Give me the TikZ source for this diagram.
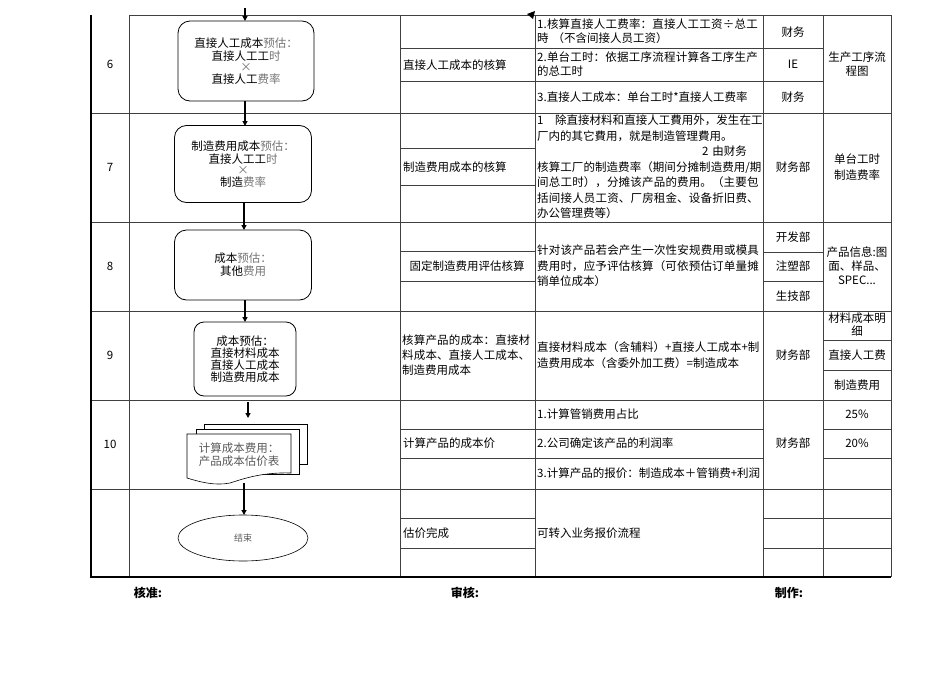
\documentclass[tikz,border=0pt]{standalone}
\usepackage{fontspec}
\setmainfont{Noto Sans CJK SC}
\XeTeXlinebreaklocale "zh"
\XeTeXlinebreakskip=0pt plus 1pt
\usetikzlibrary{shapes.geometric,arrows.meta}
\begin{document}
\begin{tikzpicture}[x=1pt,y=-1pt,
  every node/.style={font=\fontsize{11.5}{16}\selectfont,inner sep=1pt},
  grid/.style={draw=black!75,line width=0.8pt},
  thick border/.style={line width=1.8pt},
  flow/.style={draw,rounded corners=12pt,line width=0.8pt},
  arr/.style={-{Triangle[length=5pt,width=5pt]},line width=1.5pt},
  cell/.style={anchor=west,align=left},
  ctr/.style={align=center},
  gr/.style={text=black!55}]
\useasboundingbox (0,0) rectangle (950,672);
% grid
\draw[grid] (129,15) -- (891,15);
\foreach \y in {113,222,311,400,489} \draw[grid] (91,\y) -- (891,\y);
\foreach \x in {129,400,535,763,823,891} \draw[grid] (\x,15) -- (\x,577);
\foreach \y in {48,81,148,185,251,281,429,458,518,548} \draw[grid] (400,\y) -- (535,\y);
\foreach \y in {48,81,429,458} \draw[grid] (535,\y) -- (763,\y);
\foreach \y in {48,81,252,281,518,548} \draw[grid] (763,\y) -- (823,\y);
\foreach \y in {340,370,429,458,518,548} \draw[grid] (823,\y) -- (891,\y);
\draw[thick border] (91,15) -- (91,577) -- (891,577);
% row numbers
\node at (110,64) {6};
\node at (110,167) {7};
\node at (110,266) {8};
\node at (110,355) {9};
\node at (110,444) {10};
% flow shapes
\node[flow,minimum width=136pt,minimum height=80pt,ctr] (b6) at (246,61) {直接人工成本\textcolor{black!55}{预估：}\\[-3pt]直接人工工\textcolor{black!55}{时}\\[-5pt]\textcolor{black!55}{×}\\[-4pt]直接人工\textcolor{black!55}{费率}};
\node[flow,minimum width=137pt,minimum height=77pt,ctr] (b7) at (243,164) {制造费用成本\textcolor{black!55}{预估：}\\[-3pt]直接人工工\textcolor{black!55}{时}\\[-5pt]\textcolor{black!55}{×}\\[-4pt]制造\textcolor{black!55}{费率}};
\node[flow,minimum width=137pt,minimum height=70pt,ctr] (b8) at (243,265) {成本\textcolor{black!55}{预估：}\\[-3pt]其他\textcolor{black!55}{费用}};
\node[flow,minimum width=102pt,minimum height=74pt,ctr,rounded corners=10pt] (b9) at (245,359) {成本预估：\\[-4pt]直接材料成本\\[-4pt]直接人工成本\\[-4pt]制造费用成本};
% document stack
\draw[line width=0.6pt,fill=white] (204,424) rectangle (307,464);
\draw[line width=0.6pt,fill=white] (196,429) rectangle (299,474);
\draw[line width=0.6pt,fill=white] (187,434) -- (291,434) -- (291,473) .. controls (260,472) and (240,480) .. (230,483) .. controls (215,486) and (200,482) .. (187,478) -- cycle;
\node[ctr,text=black!65] (b10) at (239,455) {计算成本费用：\\[-3pt]产品成本估价表};
\node[draw,ellipse,line width=0.6pt,minimum width=130pt,minimum height=46pt,font=\fontsize{9}{11}\selectfont,text=black!65] (end) at (243,538) {结束};
% arrows
\coordinate (a0) at (245,8);  \coordinate (a0e) at (245,21);
\coordinate (a1) at (245,101); \coordinate (a1e) at (245,126);
\coordinate (a2) at (244,203); \coordinate (a2e) at (244,230);
\coordinate (a3) at (245,300); \coordinate (a3e) at (245,322);
\coordinate (a4) at (248,402); \coordinate (a4e) at (248,418);
\coordinate (a5) at (244,483); \coordinate (a5e) at (244,515);
\draw[arr] (a0) -- (a0e);
\draw[arr] (a1) -- (a1e);
\draw[arr] (a2) -- (a2e);
\draw[arr] (a3) -- (a3e);
\draw[arr] (a4) -- (a4e);
\draw[arr] (a5) -- (a5e);
\fill (527,14) -- (535,11) -- (533,19) -- cycle;
% column 3
\node[cell] at (402,65) {直接人工成本的核算};
\node[cell] at (402,167) {制造费用成本的核算};
\node at (467,266) {固定制造费用评估核算};
\node[cell,text width=132pt,font=\fontsize{11.5}{15}\selectfont] at (401,355) {核算产品的成本：直接材料成本、直接人工成本、制造费用成本};
\node[cell] at (402,443) {计算产品的成本价};
\node[cell] at (402,533) {估价完成};
% column 4
\node[cell,text width=226pt,font=\fontsize{11.5}{14}\selectfont] at (536,31) {1.核算直接人工费率：直接人工工资÷总工時\ （不含间接人员工资）};
\node[cell,text width=226pt,font=\fontsize{11.5}{14}\selectfont] at (536,64) {2.单台工时：依据工序流程计算各工序生产的总工时};
\node[cell] at (536,97) {3.直接人工成本：单台工时*直接人工费率};
\node[cell,text width=226pt,font=\fontsize{11.5}{15.5}\selectfont] at (536,167) {1\quad 除直接材料和直接人工費用外，发生在工厂内的其它費用，就是制造管理費用。\\\hspace*{165pt}2\ 由财务\\核算工厂的制造费率（期间分摊制造费用/期间总工时），分摊该产品的费用。（主要包括间接人员工资、厂房租金、设备折旧费、办公管理费等）};
\node[cell,text width=226pt,font=\fontsize{11.5}{15.5}\selectfont] at (536,266) {针对该产品若会产生一次性安规费用或模具费用时，应予评估核算（可依预估订单量摊销单位成本）};
\node[cell,text width=226pt,font=\fontsize{11.5}{15.5}\selectfont] at (536,355) {直接材料成本（含辅料）+直接人工成本+制造费用成本（含委外加工费）=制造成本};
\node[cell] at (536,414) {1.计算管销费用占比};
\node[cell] at (536,443) {2.公司确定该产品的利润率};
\node[cell,text width=226pt,font=\fontsize{11.5}{14}\selectfont] at (536,473) {3.计算产品的报价：制造成本＋管销费+利润};
\node[cell] at (536,533) {可转入业务报价流程};
% column 5
\node at (793,32) {财务};
\node at (793,64) {IE};
\node at (793,97) {财务};
\node at (793,167) {财务部};
\node at (793,237) {开发部};
\node at (793,266) {注塑部};
\node at (793,296) {生技部};
\node at (793,355) {财务部};
\node at (793,443) {财务部};
% column 6
\node[ctr,font=\fontsize{11.5}{14}\selectfont] at (857,64) {生产工序流\\程图};
\node[ctr,font=\fontsize{11.5}{16}\selectfont] at (857,167) {单台工时\\制造费率};
\node[ctr,font=\fontsize{11.5}{14}\selectfont] at (857,266) {产品信息:图\\面、样品、\\SPEC...};
\node[ctr,font=\fontsize{11.5}{13}\selectfont] at (857,325) {材料成本明\\细};
\node at (857,355) {直接人工费};
\node at (857,385) {制造费用};
\node at (857,414) {25\%};
\node at (857,443) {20\%};
% footer
\node[font=\fontsize{12}{14}\selectfont\bfseries] at (148,593) {核准:};
\node[font=\fontsize{12}{14}\selectfont\bfseries] at (465,593) {审核:};
\node[font=\fontsize{12}{14}\selectfont\bfseries] at (789,593) {制作:};
\end{tikzpicture}
\end{document}
